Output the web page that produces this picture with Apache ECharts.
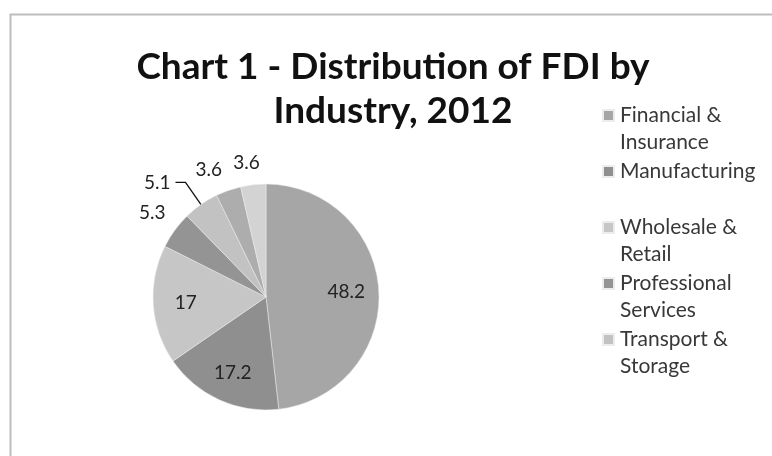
<!DOCTYPE html>
<html>
<head>
<meta charset="utf-8">
<script src="https://cdn.jsdelivr.net/npm/echarts@6/dist/echarts.min.js"></script>
<style>
  html, body { margin: 0; padding: 0; background: #fff; }
  #chart { width: 772px; height: 456px; }
</style>
</head>
<body>
<div id="chart"></div>
<script>
// FDI share by industry, 2012 (percent)
var industries = ['Financial & Insurance', 'Manufacturing', 'Wholesale & Retail',
  'Professional Services', 'Transport & Storage', 'Other Industries', 'Other Services'];
var shares = [48.2, 17.2, 17, 5.3, 5.1, 3.6, 3.6];
var sliceColors = ['#a6a6a6', '#8f8f8f', '#c6c6c6', '#949494', '#c2c2c2', '#adadad', '#d3d3d3'];
// legend in the original only shows the first five, wrapped on two lines
var legendNames = industries.slice(0, 5);
var legendText = ['Financial &\nInsurance', 'Manufacturing\n ', 'Wholesale &\nRetail',
  'Professional\nServices', 'Transport &\nStorage'];

// label placement: inside for big slices, outside for small ones
var labelInside = [true, true, true, false, false, false, false];
var lineLen = [0, 0, 0, 30, 27, 22, 22];
var lineLen2 = [0, 0, 0, -20, 10, -6, -14];
var showLine = [false, false, false, false, true, false, false];

var pieCenter = [266, 297];
var chart = echarts.init(document.getElementById('chart'));

var data = shares.map(function(v, i) {
  return {
    name: industries[i],
    value: v,
    itemStyle: { color: sliceColors[i] },
    label: { position: labelInside[i] ? 'inside' : 'outside' },
    labelLine: {
      show: showLine[i],
      length: lineLen[i],
      length2: lineLen2[i]
    }
  };
});

chart.setOption({
  backgroundColor: '#fff',
  animation: false,
  graphic: [{
    type: 'rect',
    left: 8,
    top: 12,
    shape: { width: 800, height: 500 },
    style: { fill: 'none', stroke: '#bdbdbd', lineWidth: 2 }
  }],
  title: {
    text: 'Chart 1 - Distribution of FDI by\nIndustry, 2012',
    left: 393,
    top: 45,
    textAlign: 'center',
    padding: 0,
    textStyle: {
      fontFamily: 'Lato',
      fontWeight: 'bold',
      fontSize: 37,
      lineHeight: 44,
      color: '#111'
    }
  },
  legend: {
    orient: 'vertical',
    left: 602,
    top: 75,
    padding: 0,
    itemWidth: 11,
    itemHeight: 11,
    itemGap: -25,
    icon: 'rect',
    data: legendNames,
    formatter: function(name) {
      // blank first line so the swatch sits on the first text line
      return ' \n' + legendText[legendNames.indexOf(name)];
    },
    textStyle: {
      fontFamily: 'Lato',
      fontSize: 21,
      lineHeight: 27,
      color: '#383838',
      padding: [0, 0, 0, 1]
    }
  },
  series: [{
    type: 'pie',
    center: pieCenter,
    radius: 113,
    startAngle: 90,
    clockwise: true,
    avoidLabelOverlap: false,
    itemStyle: { borderColor: '#ececec', borderWidth: 0.5 },
    label: {
      fontFamily: 'Lato',
      fontSize: 19,
      color: '#222',
      formatter: '{c}'
    },
    labelLine: {
      smooth: false,
      lineStyle: { color: '#111', width: 1.3 }
    },
    labelLayout: function(p) {
      // push inside labels further out, like the original
      if (p.dataIndex > 2) return {};
      var r = p.labelRect;
      var lx = r.x + r.width / 2, ly = r.y + r.height / 2;
      return { dx: (lx - pieCenter[0]) * 0.35, dy: (ly - pieCenter[1]) * 0.4 };
    },
    emphasis: { disabled: true },
    data: data
  }]
});
</script>
</body>
</html>
